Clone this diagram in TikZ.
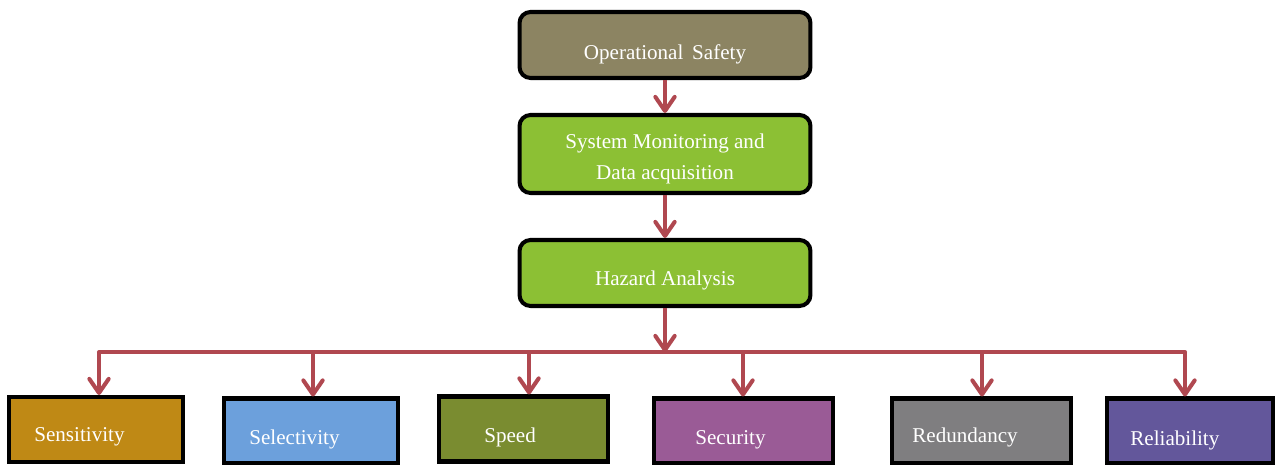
\documentclass[tikz,border=0pt]{standalone}
\usepackage{fontspec}
\setmainfont{Liberation Serif}
\usetikzlibrary{positioning, arrows.meta}
\definecolor{arrowred}{HTML}{B04850}
\definecolor{safetyc}{HTML}{8C8462}
\definecolor{greenc}{HTML}{8CC034}
\definecolor{sensc}{HTML}{BF8915}
\definecolor{selc}{HTML}{6CA0DC}
\definecolor{speedc}{HTML}{7A8C30}
\definecolor{secc}{HTML}{9A5B96}
\definecolor{redc}{HTML}{7F7E80}
\definecolor{relc}{HTML}{63579B}

\begin{document}
\begin{tikzpicture}[x=0.02cm, y=-0.02cm,
    topbox/.style={draw=black, line width=2.3pt, rounded corners=0.22cm, minimum width=5.82cm, text=white, font=\fontsize{12}{18}\selectfont, align=center},
    botbox/.style={draw=black, line width=2.3pt, minimum height=1.3cm},
    boxtext/.style={anchor=west, text=white, font=\fontsize{12}{14}\selectfont, inner sep=0pt},
    arr/.style={draw=arrowred, line width=2.3pt, -{Straight Barb[length=8pt, width=11pt, line cap=round, line join=round]}},
    busline/.style={draw=arrowred, line width=2.3pt}]
    \useasboundingbox[fill=white] (0,0) rectangle (1276,465);

    \node[topbox, fill=safetyc, minimum height=1.32cm, text height=19pt, text depth=3pt] (safety) at (665,45) {Operational\, Safety};
    \node[topbox, fill=greenc, minimum height=1.56cm, text height=32.5pt, text depth=3pt] (monitor) at (665,154) {System Monitoring and\\Data acquisition};
    \node[topbox, fill=greenc, minimum height=1.32cm, text height=17pt, text depth=3pt] (hazard) at (665,273) {Hazard Analysis};

    \node[botbox, fill=sensc, minimum width=3.48cm] (sens) at (96,429.5) {};
    \node[botbox, fill=selc, minimum width=3.48cm] (sel) at (311,431) {};
    \node[botbox, fill=speedc, minimum width=3.38cm] (speed) at (523.5,429) {};
    \node[botbox, fill=secc, minimum width=3.58cm] (sec) at (743.5,431) {};
    \node[botbox, fill=redc, minimum width=3.58cm] (red) at (981.5,431) {};
    \node[botbox, fill=relc, minimum width=3.32cm] (rel) at (1190,431) {};

    \node[boxtext] (senst) at (34,437) {Sensitivity};
    \node[boxtext] (selt) at (249,439) {Selectivity};
    \node[boxtext] (speedt) at (484,437) {Speed};
    \node[boxtext] (sect) at (695,440) {Security};
    \node[boxtext] (redt) at (912,437) {Redundancy};
    \node[boxtext] (relt) at (1130,440) {Reliability};

    \coordinate (bus) at (665,352);
    \coordinate (busl) at (99,352);
    \coordinate (busr) at (1185,352);

    \draw[arr] (safety) -- (monitor);
    \draw[arr] (monitor) -- (hazard);
    \draw[arr] (hazard) -- (bus);
    \draw[busline, line cap=round] (busl) -- (busr);
    \foreach \b/\x in {sens/99, sel/313, speed/529, sec/743, red/982, rel/1185}
        \draw[arr] (\x,352) -- (\x,352 |- \b.north);
\end{tikzpicture}
\end{document}
